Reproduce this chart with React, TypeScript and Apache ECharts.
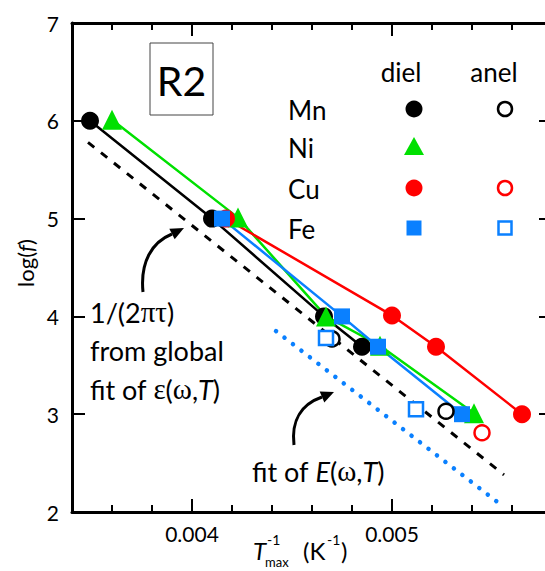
import React, { useEffect, useRef } from "react";
import * as echarts from "echarts";

// ---- data ----
const mnDielX = [0.00349, 0.0041, 0.00466, 0.00485];
const mnDielY = [6.0, 5.0, 4.0, 3.69];
const niDielX = [0.0036, 0.00423, 0.00467, 0.00494, 0.00541];
const niDielY = [6.01, 5.01, 4.0, 3.7, 3.01];
const cuDielX = [0.00417, 0.005, 0.00522, 0.00565];
const cuDielY = [5.0, 4.01, 3.69, 3.0];
const feDielX = [0.00415, 0.00475, 0.00493, 0.00535];
const feDielY = [5.0, 4.0, 3.69, 3.0];
const mnAnelX = [0.0047, 0.00527];
const mnAnelY = [3.77, 3.03];
const cuAnelX = [0.00545];
const cuAnelY = [2.81];
const feAnelX = [0.00467, 0.00512];
const feAnelY = [3.78, 3.05];
const epsFitX = [0.00348, 0.00556];
const epsFitY = [5.78, 2.38];
const eFitX = [0.00442, 0.00556];
const eFitY = [3.85, 2.05];
const xMajorTicks = [0.004, 0.005];
const xTickLabels = ["0.004", "0.005"];
const yTickLabels = ["2", "3", "4", "5", "6", "7"];

const X_MIN = 0.0034;
const X_MAX = 0.0058;
const Y_MIN = 2;
const Y_MAX = 7;

const BLACK = "#000000";
const GREEN = "#00e000";
const RED = "#ff0000";
const BLUE = "#0a80ff";

const FONT = 'Lato, "Noto Sans", sans-serif';
const GREEK = '"Liberation Serif", "DejaVu Serif", serif';

const pairs = (xs: number[], ys: number[]) => xs.map((x, i) => [x, ys[i]]);

function App() {
  const ref = useRef<HTMLDivElement>(null);

  useEffect(() => {
    if (!ref.current) return;
    const chart = echarts.init(ref.current, undefined, { renderer: "svg" });

    const axisCommon = {
      type: "value" as const,
      min: X_MIN,
      max: X_MAX,
      interval: 0.0002,
      splitLine: { show: false },
      axisLine: { show: true, lineStyle: { color: BLACK, width: 3 } },
      axisTick: { show: true, inside: true, length: 7, lineStyle: { color: BLACK, width: 2 } },
    };
    const yCommon = {
      type: "value" as const,
      min: Y_MIN,
      max: Y_MAX,
      interval: 1,
      splitLine: { show: false },
      axisLine: { show: true, lineStyle: { color: BLACK, width: 3 } },
      axisTick: { show: true, inside: true, length: 13, lineStyle: { color: BLACK, width: 2 } },
    };

    const xLabel = (v: number) => {
      for (let i = 0; i < xMajorTicks.length; i++) {
        if (Math.abs(v - xMajorTicks[i]) < 1e-8) return xTickLabels[i];
      }
      return "";
    };
    const yLabel = (v: number) => {
      const s = String(Math.round(v));
      return yTickLabels.indexOf(s) >= 0 ? s : "";
    };

    const lineSeries = (name: string, xs: number[], ys: number[], color: string, symbol: string, size: number) => ({
      name,
      type: "line",
      data: pairs(xs, ys),
      symbol,
      symbolSize: size,
      showSymbol: true,
      lineStyle: { color, width: 2.5 },
      itemStyle: { color, opacity: 1 },
      z: 3,
    });
    const openSeries = (name: string, xs: number[], ys: number[], color: string, symbol: string, size: number) => ({
      name,
      type: "scatter",
      data: pairs(xs, ys),
      symbol,
      symbolSize: size,
      itemStyle: { color: "#ffffff", borderColor: color, borderWidth: 2.5, opacity: 1 },
      z: 3,
    });

    const txt = (x: number, y: number, text: string, size: number, extra: any = {}) => ({
      type: "text",
      x,
      y,
      z: 10,
      style: {
        text,
        fill: BLACK,
        font: `${size}px ${FONT}`,
        fontSize: size,
        fontFamily: FONT,
        align: "left",
        verticalAlign: "middle",
        textAlign: "left",
        textVerticalAlign: "middle",
        ...extra,
      },
    });

    const richBase = (size: number) => ({
      n: { fontSize: size, fontFamily: FONT, color: BLACK },
      g: { fontSize: size + 2, fontFamily: GREEK, color: BLACK },
      i: { fontSize: size, fontFamily: FONT, fontStyle: "italic", color: BLACK },
    });

    const arrow = (x0: number, y0: number, c1x: number, c1y: number, c2x: number, c2y: number, x1: number, y1: number, tx: number, ty: number) => {
      const dx = tx - x1;
      const dy = ty - y1;
      const len = Math.sqrt(dx * dx + dy * dy);
      const px = (-dy / len) * 6;
      const py = (dx / len) * 6;
      return [
        {
          type: "bezierCurve",
          z: 10,
          shape: { x1: x0, y1: y0, cpx1: c1x, cpy1: c1y, cpx2: c2x, cpy2: c2y, x2: x1, y2: y1 },
          style: { stroke: BLACK, lineWidth: 3, fill: null },
        },
        {
          type: "polygon",
          z: 10,
          shape: { points: [[tx, ty], [x1 + px, y1 + py], [x1 - px, y1 - py]] },
          style: { fill: BLACK },
        },
      ];
    };

    const legendX1 = 414;
    const legendX2 = 505;
    const rows = [109, 147, 188, 228];
    const centered = (x: number, y: number, text: string, size: number) => {
      const t = txt(x, y, text, size);
      return { ...t, style: { ...t.style, align: "center", textAlign: "center" } };
    };
    const richText = (x: number, y: number, text: string, size: number) => ({
      type: "text",
      x,
      y,
      z: 10,
      style: { text, rich: richBase(size), align: "left", verticalAlign: "middle", textAlign: "left", textVerticalAlign: "middle" },
    });

    const graphics: any[] = [
      // R2 box
      { type: "rect", z: 10, shape: { x: 150, y: 43, width: 63, height: 72 }, style: { fill: "#fff", stroke: "#444", lineWidth: 1 } },
      centered(181.5, 80, "R2", 41),
      // legend header
      centered(401, 72, "diel", 26),
      centered(494, 72, "anel", 26),
      txt(288, rows[0] + 1, "Mn", 26),
      txt(288, rows[1] + 1, "Ni", 26),
      txt(288, rows[2] + 1, "Cu", 26),
      txt(288, rows[3] + 1, "Fe", 26),
      { type: "circle", z: 10, shape: { cx: legendX1, cy: rows[0], r: 8.5 }, style: { fill: BLACK } },
      { type: "circle", z: 10, shape: { cx: legendX2, cy: rows[0], r: 7 }, style: { fill: "#fff", stroke: BLACK, lineWidth: 2.5 } },
      { type: "polygon", z: 10, shape: { points: [[legendX1, rows[1] - 10], [legendX1 - 10, rows[1] + 8], [legendX1 + 10, rows[1] + 8]] }, style: { fill: GREEN } },
      { type: "circle", z: 10, shape: { cx: legendX1, cy: rows[2], r: 8.5 }, style: { fill: RED } },
      { type: "circle", z: 10, shape: { cx: legendX2, cy: rows[2], r: 7 }, style: { fill: "#fff", stroke: RED, lineWidth: 2.5 } },
      { type: "rect", z: 10, shape: { x: legendX1 - 7.5, y: rows[3] - 7.5, width: 15, height: 15 }, style: { fill: BLUE } },
      { type: "rect", z: 10, shape: { x: legendX2 - 6.5, y: rows[3] - 6.5, width: 13, height: 13 }, style: { fill: "#fff", stroke: BLUE, lineWidth: 2.5 } },
      // annotation left
      richText(90, 312, "{n|1/(2}{g|πτ}{n|)}", 27),
      richText(90, 350, "{n|from global}", 27),
      richText(90, 389, "{n|fit of }{g|ε}{n|(}{g|ω}{n|,}{i|T}{n|)}", 27),
      // annotation bottom
      richText(252, 471, "{n|fit of }{i|E}{n|(}{g|ω}{n|,}{i|T}{n|)}", 27),
      ...arrow(143, 292, 140, 262, 152, 242, 172, 234, 184, 228),
      ...arrow(294, 445, 291, 420, 302, 404, 322, 397, 334, 392),
      // y-axis title
      {
        type: "text",
        x: 25,
        y: 263,
        rotation: Math.PI / 2,
        z: 10,
        style: { text: "{n|log(}{i|f}{n|)}", rich: richBase(22), align: "center", verticalAlign: "middle", textAlign: "center", textVerticalAlign: "middle" },
      },
      // x-axis title
      (() => {
        const t = txt(253, 550, "T", 24);
        return { ...t, style: { ...t.style, fontStyle: "italic", font: `italic 24px ${FONT}` } };
      })(),
      txt(267, 539, "-1", 14),
      txt(265, 562, "max", 13),
      txt(303, 550, "(K", 24),
      txt(327, 539, "-1", 14),
      txt(341, 550, ")", 24),
    ];

    const option: any = {
      animation: false,
      backgroundColor: "#ffffff",
      grid: { left: 72, right: 1, top: 23, bottom: 59, containLabel: false },
      xAxis: [
        {
          ...axisCommon,
          position: "bottom",
          axisLabel: { show: true, formatter: xLabel, fontSize: 21, fontFamily: FONT, color: BLACK, margin: 11, showMinLabel: true, showMaxLabel: true },
        },
        { ...axisCommon, position: "top", axisLabel: { show: false } },
      ],
      yAxis: [
        {
          ...yCommon,
          position: "left",
          axisLabel: { show: true, formatter: yLabel, fontSize: 21, fontFamily: FONT, color: BLACK, margin: 13 },
        },
        { ...yCommon, position: "right", axisLabel: { show: false } },
      ],
      series: [
        {
          name: "fit eps",
          type: "line",
          data: pairs(epsFitX, epsFitY),
          symbol: "none",
          lineStyle: { color: BLACK, width: 3, type: [8, 8.6] },
          z: 2,
        },
        {
          name: "fit E",
          type: "line",
          data: pairs(eFitX, eFitY),
          symbol: "none",
          lineStyle: { color: BLUE, width: 4.5, type: [0.1, 10.6], cap: "round" },
          z: 2,
        },
        lineSeries("Mn diel", mnDielX, mnDielY, BLACK, "circle", 18),
        lineSeries("Ni diel", niDielX, niDielY, GREEN, "triangle", 20),
        lineSeries("Cu diel", cuDielX, cuDielY, RED, "circle", 18),
        lineSeries("Fe diel", feDielX, feDielY, BLUE, "rect", 16),
        openSeries("Mn anel", mnAnelX, mnAnelY, BLACK, "circle", 15),
        openSeries("Cu anel", cuAnelX, cuAnelY, RED, "circle", 15),
        openSeries("Fe anel", feAnelX, feAnelY, BLUE, "rect", 14),
        {
          name: "major ticks",
          type: "custom",
          clip: false,
          silent: true,
          data: xMajorTicks.map((v) => [v, Y_MIN]),
          renderItem: (_params: any, api: any) => {
            const v = api.value(0);
            const pb = api.coord([v, Y_MIN]);
            const pt = api.coord([v, Y_MAX]);
            return {
              type: "group",
              children: [
                { type: "line", shape: { x1: pb[0], y1: pb[1], x2: pb[0], y2: pb[1] - 13 }, style: { stroke: BLACK, lineWidth: 2 } },
                { type: "line", shape: { x1: pt[0], y1: pt[1], x2: pt[0], y2: pt[1] + 13 }, style: { stroke: BLACK, lineWidth: 2 } },
              ],
            };
          },
          z: 5,
        },
      ],
      graphic: graphics,
    };

    chart.setOption(option);
    return () => chart.dispose();
  }, []);

  return (
    <div
      ref={ref}
      style={{ position: "fixed", left: 0, top: 0, width: 555, height: 571, background: "#fff" }}
    />
  );
}

export default App;
